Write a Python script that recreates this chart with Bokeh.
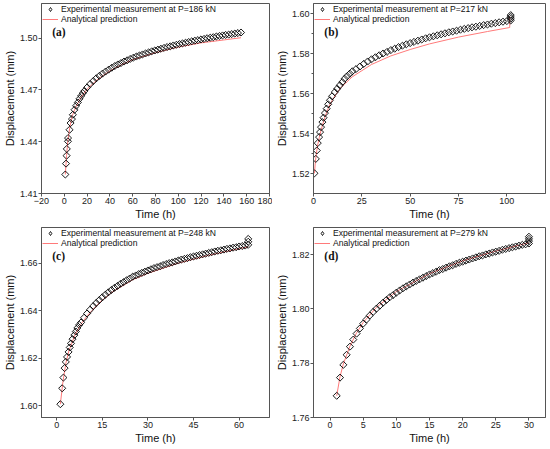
import math
from bokeh.plotting import figure
from bokeh.models import Range1d, FixedTicker, Legend, LegendItem, Label, NumeralTickFormatter
from bokeh.layouts import column, row
from bokeh.embed import file_html
from bokeh.resources import INLINE

# ---------------- data ----------------
# (a) P = 186 kN
a_t_exp = [0.9, 1.5, 2.0, 2.2, 3.2, 3.3, 4.6, 5.5, 6.7, 7.5, 9.0, 10.4, 11.9, 13.3, 14.8, 16.2, 17.7,
           20.0, 22.7, 25.4, 28.1, 30.8, 33.5, 36.2, 38.9, 41.6, 44.3, 47.0, 49.7, 52.4, 55.1, 57.8,
           60.5, 63.2, 65.9, 68.6, 71.3, 74.0, 76.7, 79.4, 82.1, 84.8, 87.5, 90.2, 92.9, 95.6, 98.3,
           101.0, 103.7, 106.4, 109.1, 111.8, 114.5, 117.2, 119.9, 122.6, 125.3, 128.0, 130.7, 133.4,
           136.1, 138.8, 141.5, 144.2, 146.9, 149.6, 152.3, 155.0]
a_y_exp = [1.4210, 1.4273, 1.4319, 1.4358, 1.4402, 1.4421, 1.4469, 1.4508, 1.4531, 1.4556, 1.4585,
           1.4608, 1.4627, 1.4648, 1.4665, 1.4681, 1.4694,
           1.4714, 1.4734, 1.4751, 1.4767, 1.4781, 1.4794, 1.4806, 1.4817, 1.4828, 1.4838,
           1.4847, 1.4855, 1.4864, 1.4871, 1.4879, 1.4886, 1.4893, 1.4899, 1.4905, 1.4911,
           1.4917, 1.4923, 1.4928, 1.4933, 1.4938, 1.4943, 1.4948, 1.4952, 1.4957, 1.4961,
           1.4965, 1.4969, 1.4973, 1.4977, 1.4981, 1.4985, 1.4988, 1.4992, 1.4995, 1.4999,
           1.5002, 1.5005, 1.5009, 1.5012, 1.5015, 1.5018, 1.5020, 1.5023, 1.5026, 1.5029, 1.5032]
a_t_fit = [0.9, 1.5, 2, 3, 5, 7, 10, 15, 20, 30, 40, 50, 60, 80, 100, 120, 140, 155]
a_y_fit = [1.4210, 1.4270, 1.4320, 1.4400, 1.4490, 1.4550, 1.4600, 1.4660, 1.4705, 1.4765, 1.4810,
           1.4845, 1.4875, 1.4915, 1.4948, 1.4972, 1.4989, 1.5002]

# (b) P = 217 kN
b_t_exp = [0.5, 1.2, 1.7, 2.2, 2.9, 3.4, 3.9, 4.6, 5.2, 5.9, 6.8, 7.6, 8.5, 9.6, 11.0, 12.3, 13.6,
           14.9, 16.1, 17.4, 18.8, 20.1,
           22, 24, 26, 28, 30, 32, 34, 36, 38, 40, 42, 44, 46, 48, 50, 52, 54, 56, 58, 60, 62, 64,
           66, 68, 70, 72, 74, 76, 78, 80, 82, 84, 86, 88, 90, 92, 94, 96, 98, 100, 102,
           102, 102, 102]
b_y_exp = [1.5201, 1.5273, 1.5315, 1.5352, 1.5382, 1.5407, 1.5432, 1.5457, 1.5479, 1.5502, 1.5524,
           1.5546, 1.5566, 1.5586, 1.5607, 1.5624, 1.5641, 1.5657, 1.5674, 1.5687, 1.5699, 1.5711,
           1.5722, 1.5735, 1.5748, 1.5760, 1.5771, 1.5781, 1.5791, 1.5800, 1.5808, 1.5817,
           1.5824, 1.5832, 1.5839, 1.5846, 1.5852, 1.5858, 1.5864, 1.5870, 1.5876, 1.5881,
           1.5886, 1.5891, 1.5896, 1.5901, 1.5906, 1.5910, 1.5914, 1.5919, 1.5923, 1.5927,
           1.5931, 1.5934, 1.5938, 1.5942, 1.5945, 1.5949, 1.5952, 1.5956, 1.5959, 1.5962, 1.5965,
           1.5974, 1.5983, 1.5992]
b_t_fit = [0.5, 1, 2, 3, 4, 6, 8, 10, 14, 20, 30, 40, 50, 60, 75, 90, 101.5, 101.5]
b_y_fit = [1.5201, 1.5262, 1.5335, 1.5380, 1.5420, 1.5485, 1.5535, 1.5572, 1.5628, 1.5683, 1.5745,
           1.5788, 1.5820, 1.5848, 1.5882, 1.5910, 1.5930, 1.5985]

# (c) P = 248 kN
c_t_exp = [1.2, 1.8, 2.2, 2.6, 3.0, 3.4, 3.9, 4.3, 4.7, 5.2, 5.8, 6.3, 6.8, 7.4,
           8, 9, 10, 11, 12, 13, 14, 15, 16, 17, 18, 19, 20, 21, 22, 23, 24,
           25, 26, 27, 28, 29, 30, 31, 32, 33, 34, 35, 36, 37, 38, 39, 40, 41, 42, 43, 44,
           45, 46, 47, 48, 49, 50, 51, 52, 53, 54, 55, 56, 57, 58, 59, 60, 61, 62, 63,
           63, 63]
c_y_exp = [1.6006, 1.6073, 1.6118, 1.6158, 1.6184, 1.6205, 1.6226, 1.6245, 1.6262, 1.6280, 1.6297,
           1.6312, 1.6327, 1.6340,
           1.6350, 1.6370, 1.6388, 1.6404, 1.6419, 1.6432, 1.6444, 1.6456, 1.6467, 1.6477,
           1.6487, 1.6496, 1.6504, 1.6513, 1.6520, 1.6528, 1.6535,
           1.6543, 1.6548, 1.6554, 1.6559, 1.6564, 1.6569, 1.6574, 1.6579, 1.6583, 1.6587,
           1.6592, 1.6596, 1.6600, 1.6603, 1.6607, 1.6611, 1.6615, 1.6618, 1.6621, 1.6625,
           1.6628, 1.6631, 1.6634, 1.6637, 1.6640, 1.6643, 1.6646, 1.6649, 1.6652, 1.6654,
           1.6657, 1.6660, 1.6662, 1.6665, 1.6667, 1.6670, 1.6672, 1.6674, 1.6677,
           1.6690, 1.6702]
c_t_fit = [1.2, 2, 3, 4, 6, 8, 10, 14, 18, 25, 30, 40, 50, 63]
c_y_fit = [1.6006, 1.6095, 1.6178, 1.6230, 1.6298, 1.6343, 1.6378, 1.6433, 1.6476, 1.6530, 1.6557,
           1.6600, 1.6633, 1.6669]

# (d) P = 279 kN
d_t_exp = [1.0, 1.5, 2.0, 2.5, 3.0, 3.5, 4.0, 4.5, 5.0, 5.5, 6.0, 6.5, 7.0, 7.5, 8.0, 8.5, 9.0, 9.5,
           10.0, 10.5, 11.0, 11.5, 12.0, 12.5, 13.0, 13.5, 14.0, 14.5, 15.0, 15.5, 16.0, 16.5,
           17.0, 17.5, 18.0, 18.5, 19.0, 19.5, 20.0, 20.5, 21.0, 21.5, 22.0, 22.5, 23.0, 23.5,
           24.0, 24.5, 25.0, 25.5, 26.0, 26.5, 27.0, 27.5, 28.0, 28.5, 29.0, 29.5, 30.0,
           30.0, 30.0, 30.0]
d_y_exp = [1.7680, 1.7747, 1.7794, 1.7831, 1.7861, 1.7887, 1.7909, 1.7928, 1.7946, 1.7961, 1.7976,
           1.7989, 1.8001, 1.8012, 1.8023, 1.8033, 1.8043, 1.8051, 1.8060, 1.8068, 1.8076,
           1.8083, 1.8090, 1.8097, 1.8103, 1.8109, 1.8115, 1.8121, 1.8127, 1.8132, 1.8137,
           1.8143, 1.8147, 1.8152, 1.8157, 1.8161, 1.8166, 1.8170, 1.8174, 1.8178, 1.8182,
           1.8186, 1.8190, 1.8194, 1.8197, 1.8201, 1.8204, 1.8208, 1.8211, 1.8214, 1.8218,
           1.8221, 1.8224, 1.8227, 1.8230, 1.8233, 1.8236, 1.8238, 1.8241,
           1.8250, 1.8258, 1.8266]
d_t_fit = [1, 1.5, 2, 3, 4, 5, 7, 10, 15, 20, 25, 30]
d_y_fit = [1.7680, 1.7750, 1.7797, 1.7863, 1.7912, 1.7950, 1.8006, 1.8064, 1.8130, 1.8177, 1.8213,
           1.8244]

loads = ["186", "217", "248", "279"]
panel_tags = ["(a)", "(b)", "(c)", "(d)"]

a_xticks = [-20, 0, 20, 40, 60, 80, 100, 120, 140, 160, 180]
b_xticks = [0, 25, 50, 75, 100]
c_xticks = [0, 15, 30, 45, 60]
d_xticks = [0, 5, 10, 15, 20, 25, 30]
a_yticks = [1.41, 1.44, 1.47, 1.50]
b_yticks = [1.52, 1.54, 1.56, 1.58, 1.60]
b_yminor = [1.53, 1.55, 1.57, 1.59]
c_yticks = [1.60, 1.62, 1.64, 1.66]
d_yticks = [1.76, 1.78, 1.80, 1.82]

FONT = "Liberation Sans"
AX = "#555555"
RED = "#ff7a7a"


def panel(t_exp, y_exp, t_fit, y_fit, xr, yr, xticks, yticks, yminor, tag, load,
          left, frame_w, right, top, frame_h, bottom):
    p = figure(width=left + frame_w + right, height=top + frame_h + bottom,
               x_range=Range1d(*xr), y_range=Range1d(*yr),
               output_backend="svg", toolbar_location=None,
               min_border_left=left, min_border_right=right,
               min_border_top=top, min_border_bottom=bottom)
    p.xgrid.grid_line_color = None
    p.ygrid.grid_line_color = None
    p.outline_line_color = AX
    p.outline_line_width = 1
    p.background_fill_color = "white"
    p.border_fill_color = "white"

    ln = p.line(t_fit, y_fit, line_color=RED, line_width=1)
    p.scatter(t_exp, y_exp, marker="square", angle=math.pi / 4, size=5,
              fill_color=None, line_color="black", line_width=0.9)
    # legend key glyph: a single point placed outside the visible ranges
    key = p.scatter([xr[0] - 1000.0], [yr[0] - 1000.0], marker="diamond", size=9,
                    fill_color=None, line_color="black", line_width=0.9)

    p.xaxis.ticker = FixedTicker(ticks=xticks)
    p.yaxis.ticker = FixedTicker(ticks=yticks, minor_ticks=yminor)
    p.yaxis.formatter = NumeralTickFormatter(format="0.00")
    for ax in (p.xaxis[0], p.yaxis[0]):
        ax.axis_line_color = AX
        ax.major_tick_line_color = AX
        ax.minor_tick_line_color = AX
        ax.major_tick_out = 3
        ax.major_tick_in = 0
        ax.minor_tick_out = 2
        ax.minor_tick_in = 0
        ax.major_label_text_font = FONT
        ax.major_label_text_font_size = "9px"
        ax.major_label_text_color = "#222222"
        ax.major_label_standoff = 1
        ax.axis_label_text_font = FONT
        ax.axis_label_text_font_size = "11px"
        ax.axis_label_text_font_style = "normal"
        ax.axis_label_text_color = "#111111"
        ax.axis_label_standoff = 1
    if not yminor:
        p.yaxis.minor_tick_line_color = None
    p.xaxis.axis_label = "Time (h)"
    p.yaxis.axis_label = "Displacement (mm)"

    legend = Legend(items=[
        LegendItem(label="Experimental measurement at P=%s kN" % load, renderers=[key]),
        LegendItem(label="Analytical prediction", renderers=[ln]),
    ], location="top_left")
    legend.label_text_font = FONT
    legend.label_text_font_size = "8.6px"
    legend.label_text_color = "#111111"
    legend.label_height = 10
    legend.glyph_height = 10
    legend.glyph_width = 16
    legend.label_standoff = 3
    legend.spacing = 0
    legend.padding = 3
    legend.margin = 1
    legend.border_line_color = None
    legend.background_fill_alpha = 0
    p.add_layout(legend)

    lx = xr[0] + 11 * (xr[1] - xr[0]) / frame_w
    ly = yr[1] - 28 * (yr[1] - yr[0]) / frame_h
    p.add_layout(Label(x=lx, y=ly, text=tag, text_font="Liberation Serif",
                       text_font_style="bold", text_font_size="11.5px",
                       text_baseline="middle", text_color="#111111"))
    return p


pa = panel(a_t_exp, a_y_exp, a_t_fit, a_y_fit, (-20, 180), (1.41, 1.52), a_xticks, a_yticks, [],
           panel_tags[0], loads[0], 36, 233, 3, 3, 190, 34)
pb = panel(b_t_exp, b_y_exp, b_t_fit, b_y_fit, (0, 120), (1.51, 1.605), b_xticks, b_yticks, b_yminor,
           panel_tags[1], loads[1], 38, 235, 3, 3, 190, 34)
pc = panel(c_t_exp, c_y_exp, c_t_fit, c_y_fit, (-5, 70), (1.595, 1.675), c_xticks, c_yticks, [],
           panel_tags[2], loads[2], 36, 233, 3, 0, 190, 31)
pd = panel(d_t_exp, d_y_exp, d_t_fit, d_y_fit, (-2.5, 32.5), (1.76, 1.83), d_xticks, d_yticks, [],
           panel_tags[3], loads[3], 38, 235, 3, 0, 190, 31)

layout = column(row(pa, pb), row(pc, pd))
open("out.html", "w").write(file_html(layout, INLINE))
